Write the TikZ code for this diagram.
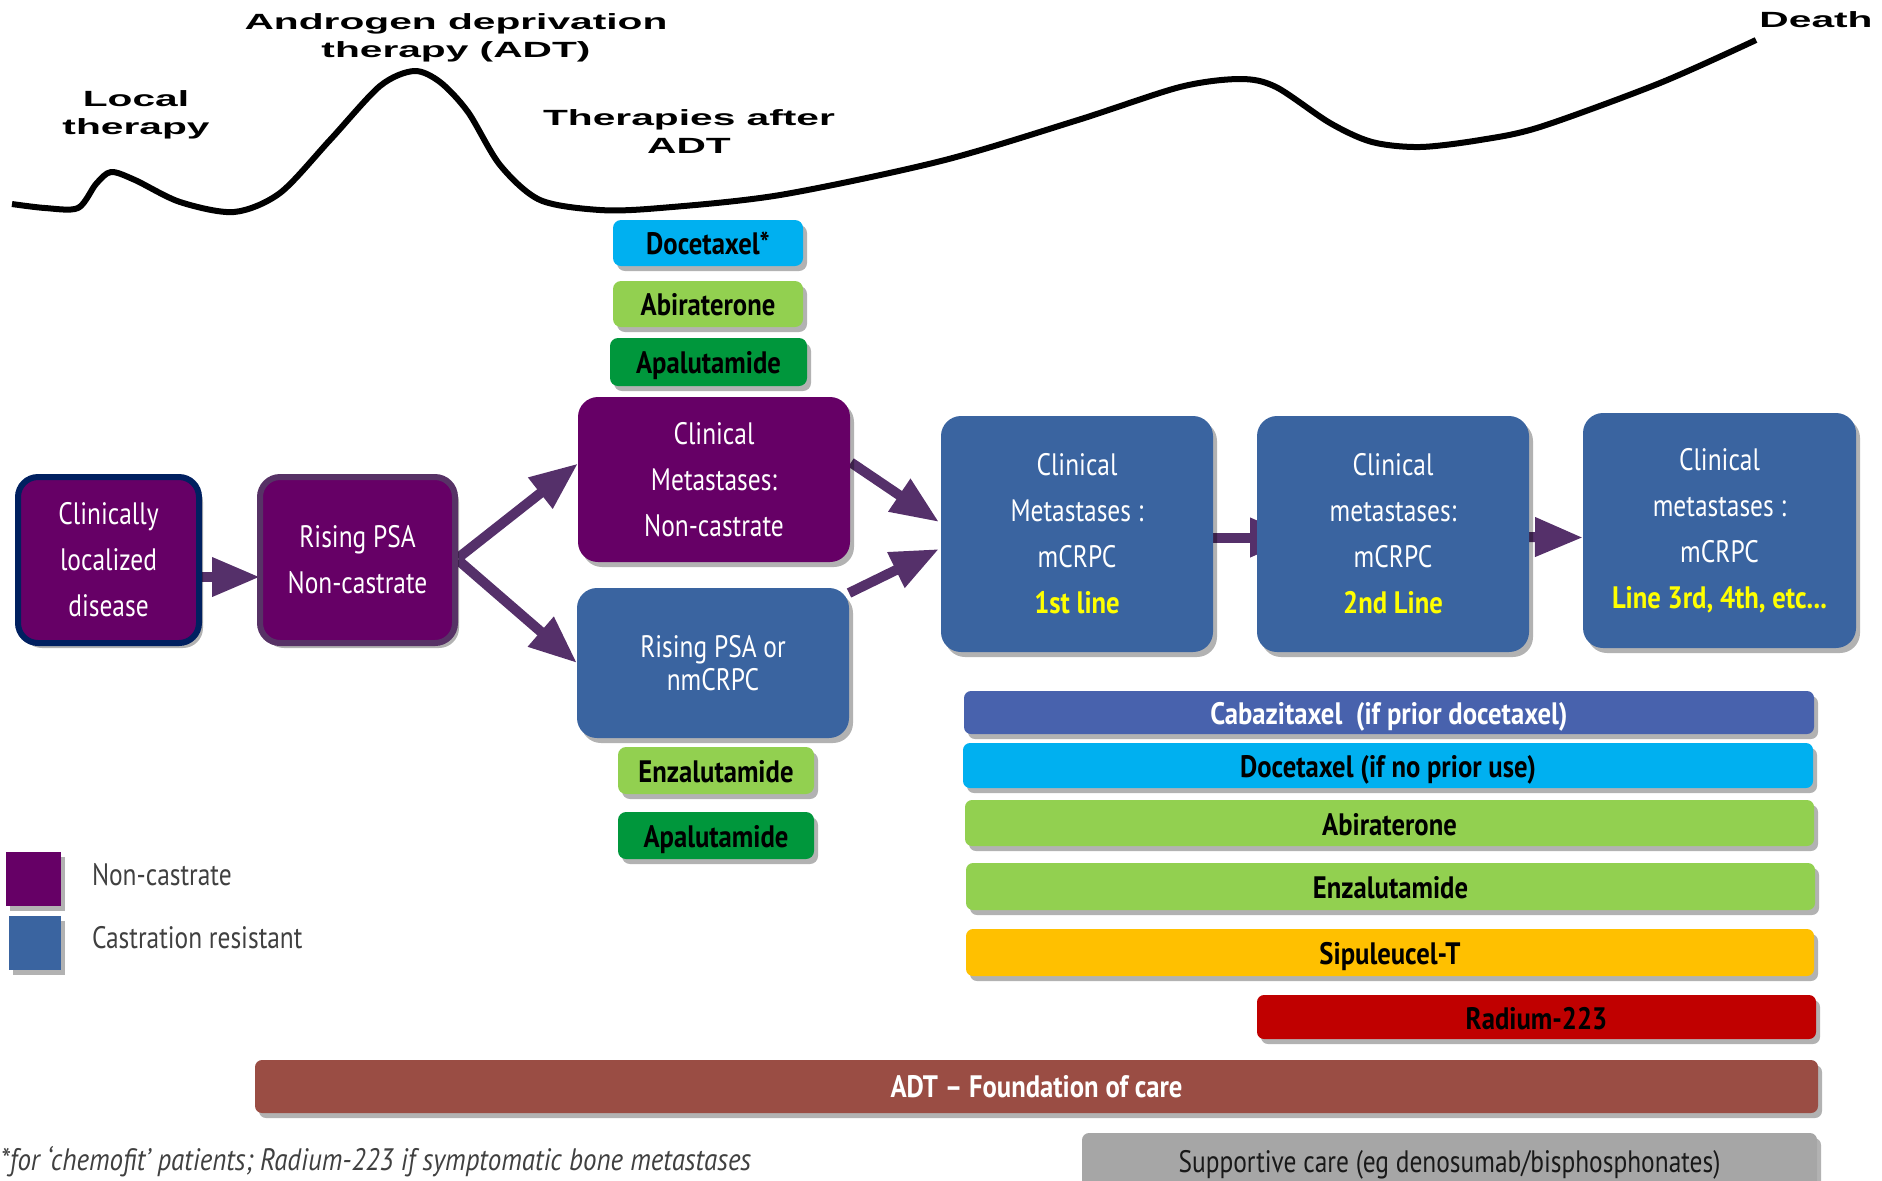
\documentclass[tikz,border=0pt]{standalone}
\usepackage{fontspec}
\setmainfont{PT Sans}[UprightFeatures={FakeStretch=0.82}, BoldFeatures={FakeStretch=0.86}, ItalicFeatures={FakeStretch=0.87}]
\newfontfamily\topfont{Liberation Sans}[FakeStretch=1.85]
\usetikzlibrary{arrows.meta,shadows,calc}
\definecolor{purp}{HTML}{660066}
\definecolor{navy}{HTML}{002060}
\definecolor{purpb}{HTML}{573266}
\definecolor{arrowc}{HTML}{55306A}
\definecolor{cblue}{HTML}{3A64A0}
\definecolor{cyanb}{HTML}{00B0F0}
\definecolor{lgreen}{HTML}{92D050}
\definecolor{dgreen}{HTML}{00973C}
\definecolor{cabaz}{HTML}{4862AD}
\definecolor{orangeb}{HTML}{FFC000}
\definecolor{redb}{HTML}{C00000}
\definecolor{brownb}{HTML}{9A4D44}
\definecolor{grayb}{HTML}{A6A6A6}
\definecolor{yel}{HTML}{FFFF00}
\definecolor{gtext}{HTML}{404040}
\pgfdeclarelayer{bg}
\pgfsetlayers{bg,main}
\tikzset{
  every node/.style={inner sep=0pt, outer sep=0pt},
  shad/.style={drop shadow={shadow xshift=2pt, shadow yshift=-2.5pt, opacity=0.3, fill=black}},
  stage/.style={shad, rectangle, rounded corners=10pt, text=white, align=center,
    font=\fontsize{15.5}{23}\selectfont},
  drug/.style={shad, rectangle, rounded corners=4pt, align=center,
    font=\bfseries\fontsize{15.5}{18}\selectfont, text height=11.5pt, text depth=0pt},
  bar/.style={drug, rounded corners=3.5pt, text height=12pt},
  toplab/.style={align=center, font=\topfont\bfseries\fontsize{11}{14}\selectfont},
  legtext/.style={text=gtext, font=\fontsize{15.5}{18}\selectfont},
  arr/.style={draw=arrowc, line width=5pt, -{Triangle[length=24pt,width=18.5pt]}},
}
\begin{document}
\begin{tikzpicture}[x=0.5pt,y=-0.5pt]
\useasboundingbox (0,0) rectangle (1882,1180);

% disease course curve
\draw[black, line width=3pt, line join=round] plot[smooth, tension=0.5] coordinates {
 (12,204) (45,208) (78,208) (96,184) (111,172) (135,180) (180,202) (234,212)
 (280,193) (330,140) (380,86) (414,71) (440,82) (468,112) (500,165) (540,200)
 (600,210) (660,208) (780,195) (941,161) (1078,120) (1180,87) (1240,79)
 (1276,87) (1330,123) (1372,142) (1420,147) (1480,140) (1540,127) (1660,83) (1756,40)};

\node[toplab] (tlocal) at (136,115) {Local\\therapy};
\node[toplab] (tadt) at (456,38) {Androgen deprivation\\therapy (ADT)};
\node[toplab] (tafter) at (689,132) {Therapies after\\ADT};
\node[toplab, anchor=base] (tdeath) at (1816,27) {Death};

% stage boxes
\node[stage, fill=purp, draw=navy, line width=3pt, minimum width=90.5pt, minimum height=83pt] (b1) at (108.5,560) {Clinically\\localized\\disease};
\node[stage, fill=purp, draw=purpb, line width=3pt, minimum width=97.5pt, minimum height=83pt] (b2) at (357.5,560) {Rising PSA\\Non-castrate};
\node[stage, fill=purp, minimum width=136pt, minimum height=82.5pt] (cm) at (714,479.5) {Clinical\\Metastases:\\Non-castrate};
\node[stage, fill=cblue, minimum width=136pt, minimum height=75pt, font=\fontsize{15.5}{16.5}\selectfont] (nm) at (713,663) {Rising PSA or\\nmCRPC};
\node[stage, fill=cblue, minimum width=136pt, minimum height=118pt] (m1) at (1077,534) {Clinical\\Metastases :\\mCRPC\\{\bfseries\color{yel}1st line}};
\node[stage, fill=cblue, minimum width=136pt, minimum height=118pt] (m2) at (1393,534) {Clinical\\metastases:\\mCRPC\\{\bfseries\color{yel}2nd Line}};
\node[stage, fill=cblue, minimum width=136.5pt, minimum height=117.5pt] (m3) at (1719.5,530.5) {Clinical\\metastases :\\mCRPC\\{\bfseries\color{yel}Line 3rd, 4th, etc...}};

% drug boxes
\node[drug, fill=cyanb, minimum width=95pt, minimum height=23pt] (dz) at (708,243) {Docetaxel*};
\node[drug, fill=lgreen, minimum width=95pt, minimum height=23pt] (ab) at (708,304) {Abiraterone};
\node[drug, fill=dgreen, minimum width=98.5pt, minimum height=24pt] (ap) at (708.5,362) {Apalutamide};
\node[drug, fill=lgreen, minimum width=98pt, minimum height=23.5pt] (ez) at (716,770.5) {Enzalutamide};
\node[drug, fill=dgreen, minimum width=98pt, minimum height=23.5pt] (ap2) at (716,835.5) {Apalutamide};

% bars
\node[bar, fill=cabaz, text=white, minimum width=425pt, minimum height=21.5pt] (bcab) at (1389,712.5) {Cabazitaxel~ (if prior docetaxel)};
\node[bar, fill=cyanb, minimum width=425pt, minimum height=22.5pt] (bdoc) at (1388,765.5) {Docetaxel (if no prior use)};
\node[bar, fill=lgreen, minimum width=424.5pt, minimum height=23pt] (babi) at (1389.5,823) {Abiraterone};
\node[bar, fill=lgreen, minimum width=424.5pt, minimum height=23.5pt] (benz) at (1390.5,886.5) {Enzalutamide};
\node[bar, fill=orangeb, minimum width=424pt, minimum height=23.5pt] (bsip) at (1390,952.5) {Sipuleucel-T};
\node[bar, fill=redb, minimum width=279.5pt, minimum height=22pt] (brad) at (1536.5,1017) {Radium-223};
\node[bar, fill=brownb, text=white, minimum width=781.5pt, minimum height=26.5pt, text height=10.5pt] (badt) at (1036.5,1086.5) {ADT – Foundation of care};
\node[bar, fill=grayb, text=black!90, font=\fontsize{15.5}{18}\selectfont, minimum width=367.5pt, minimum height=28pt, text height=11pt] (bsup) at (1449.5,1161) {Supportive care (eg denosumab/bisphosphonates)};

% legend
\node[shad, fill=purp, minimum width=27.5pt, minimum height=27pt] (lp) at (33.5,879) {};
\node[shad, fill=cblue, minimum width=26pt, minimum height=27pt] (lb) at (35,943) {};
\node[legtext, anchor=base west] (lpt) at (92,885) {Non-castrate};
\node[legtext, anchor=base west] (lbt) at (92,948) {Castration resistant};

% footnote
\node[anchor=base west, text=gtext, font=\itshape\fontsize{15.5}{18}\selectfont] (fn) at (1,1170) {*for ‘chemofit’ patients; Radium-223 if symptomatic bone metastases};

% arrows
\begin{pgfonlayer}{bg}
\draw[arr] ($(b1.east)+(0,17)$) -- ($(b2.west)+(0,17)$);
\draw[arr] ($(b2.east)+(3,-2)$) -- ($(cm.west)+(0,-16)$);
\draw[arr] ($(b2.east)+(3,0)$) -- (nm.west);
\draw[arr] ($(cm.east)+(1,-17)$) -- ($(m1.west)+(-2,-12)$);
\draw[arr] ($(nm.north east)+(0,5)$) -- ($(m1.west)+(-2,15)$);
\draw[arr] ($(m1.east)+(0,3.5)$) -- ($(m2.west)+(41,3.5)$);
\draw[arr] ($(m2.east)+(0,3)$) -- ($(m3.west)+(0,7)$);
\end{pgfonlayer}
\end{tikzpicture}
\end{document}
